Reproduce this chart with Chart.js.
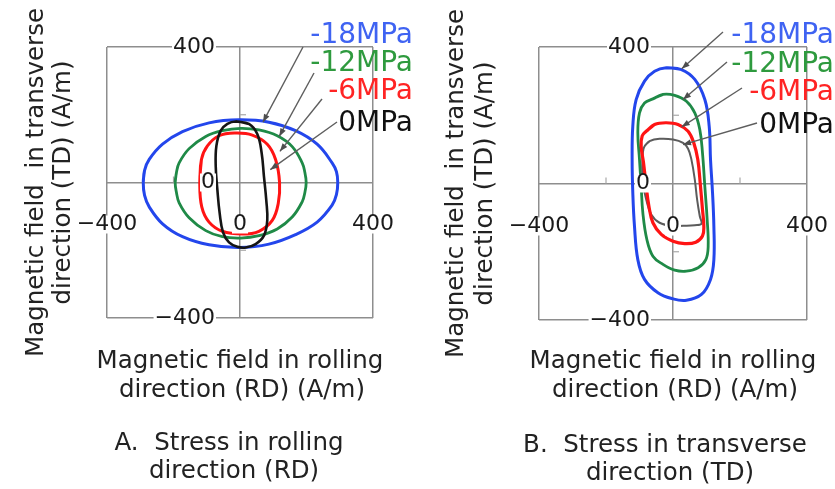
<!DOCTYPE html>
<html>
<head>
<meta charset="utf-8">
<script src="https://cdn.jsdelivr.net/npm/chart.js@4.4.0/dist/chart.umd.min.js"></script>
<style>
  html, body { margin: 0; padding: 0; background: #fff; }
  #wrap { position: relative; width: 835px; height: 489px; }
  #wrap canvas { position: absolute; top: 0; }
</style>
</head>
<body>
<div id="wrap">
  <canvas id="chartA" width="420" height="489" style="left:0;width:420px;height:489px"></canvas>
  <canvas id="chartB" width="415" height="489" style="left:420px;width:415px;height:489px"></canvas>
</div>
<script>
// ---- data (A/m) ----
const tickValues = [-400, 0, 400];
const gridValues = [-400, 0, 400];
const minorTicks = [-200, 200];
const stressLabels = ['-18MPa', '-12MPa', '-6MPa', '0MPa'];

// A. stress in rolling direction
const rd18 = [[-291,0],[-287,36],[-273,68],[-233,113],[-173,150],[-93,176],[-3,185],[87,178],[167,153],[232,113],[277,58],[290,32],
              [294,0],[290,-36],[277,-67],[232,-117],[167,-154],[87,-182],[-3,-192],[-93,-184],[-173,-160],[-233,-122],[-273,-72],[-287,-38]];
const rd12 = [[-195,0],[-191,30],[-183,58],[-153,100],[-103,136],[-53,153],[2,160],[57,155],[112,138],[157,106],[187,58],[195,30],
              [199,0],[195,-30],[187,-57],[157,-102],[112,-137],[57,-157],[2,-164],[-53,-160],[-103,-142],[-153,-104],[-183,-60],[-191,-30]];
const rd6  = [[-121,0],[-116,68],[-98,108],[-63,138],[-13,146],[37,140],[82,113],[107,68],[119,0],[115,-62],
              [97,-112],[57,-144],[7,-152],[-53,-144],[-93,-117],[-115,-72]];
const rd0  = [[-13,180],[27,173],[52,143],[65,88],[72,18],[79,-52],[82,-112],[72,-157],[47,-182],[17,-192],
              [-8,-190],[-33,-177],[-51,-147],[-61,-92],[-68,-22],[-73,48],[-71,108],[-58,153],[-38,173]];
const rdArrowTips = [[69,178],[118,136],[120,92],[91,38]];

// B. stress in transverse direction
const td18 = [[-20,339],[25,334],[65,305],[95,246],[108,168],[112,70],[118,-27],[122,-125],[122,-223],[112,-281],
              [85,-325],[40,-342],[0,-338],[-45,-320],[-85,-281],[-105,-223],[-115,-125],[-120,-27],[-122,70],[-120,168],
              [-110,246],[-85,300],[-55,329]];
const td12 = [[-60,248],[-30,261],[5,258],[40,241],[65,207],[80,158],[88,90],[95,-8],[102,-106],[105,-184],
              [98,-223],[75,-247],[40,-257],[5,-254],[-30,-237],[-60,-213],[-78,-164],[-90,-86],[-95,-8],[-100,70],
              [-105,149],[-100,207],[-85,236]];
const td6  = [[-80,153],[-55,173],[-20,178],[15,173],[45,153],[62,119],[74,70],[82,-8],[88,-76],[92,-125],
              [88,-154],[68,-172],[35,-176],[0,-169],[-35,-149],[-60,-115],[-72,-66],[-80,-8],[-88,61],[-95,109],[-92,139]];
const td0  = [[-85,109],[-70,124],[-40,131],[0,129],[30,119],[45,102],[55,70],[65,12],[72,-47],[80,-96],
              [85,-118],[65,-122],[30,-124],[0,-125],[-40,-115],[-65,-91],[-80,-47],[-90,2],[-92,51],[-90,90]];
const tdArrowTips = [[26,336],[30,246],[26,166],[30,114]];

// ---- styling ----
const FONT = '"DejaVu Sans", Verdana, sans-serif';
const GRID = '#8e8e8e';
const BLUE = '#2346ec', GREEN = '#1f8a47', RED = '#ff1414', BLACK = '#151515', GRAY = '#5c5c5c';
const labelColors = ['#3f63f2', '#2e9a3e', '#ff2424', '#111111'];

function loop(label, pts, color, width) {
  // close the curve: repeat the first two points so the spline runs smoothly through the join
  const closed = pts.concat([pts[0], pts[1]]);
  return {
    label: label,
    data: closed.map(p => ({ x: p[0], y: p[1] })),
    showLine: true,
    borderColor: color,
    borderWidth: width,
    pointRadius: 0,
    tension: 0.4,
    fill: false
  };
}

function axis() {
  return {
    type: 'linear', min: -400, max: 400,
    ticks: { display: false, stepSize: 200 },
    grid: {
      drawTicks: false,
      lineWidth: 1.5,
      color: c => (c.tick && gridValues.includes(c.tick.value)) ? GRID : 'rgba(0,0,0,0)'
    },
    border: { display: false }
  };
}

function fmt(v) {
  return v < 0 ? '\u2212' + Math.abs(v) : String(v);
}

function boxedText(ctx, text, x, y, align) {
  const w = ctx.measureText(text).width;
  const left = align === 'right' ? x - w : x - w / 2;
  ctx.fillStyle = '#fff';
  ctx.fillRect(left - 1, y - 9, w + 2, 18);
  ctx.fillStyle = '#1a1a1a';
  ctx.textAlign = align;
  ctx.fillText(text, x, y);
}

function panelPlugin(lay) {
  return {
    id: 'panelText',
    beforeDatasetsDraw(chart) {
      const ctx = chart.ctx, xs = chart.scales.x, ys = chart.scales.y;
      const cx = xs.getPixelForValue(0), cy = ys.getPixelForValue(0);
      ctx.save();
      ctx.strokeStyle = '#a8a8a8';
      ctx.lineWidth = 1.2;
      minorTicks.forEach(v => {
        const py = ys.getPixelForValue(v), px = xs.getPixelForValue(v);
        ctx.beginPath(); ctx.moveTo(cx, py); ctx.lineTo(cx + 6, py); ctx.stroke();
        ctx.beginPath(); ctx.moveTo(px, cy); ctx.lineTo(px, cy - 6); ctx.stroke();
      });
      ctx.restore();
    },
    afterDatasetsDraw(chart) {
      const ctx = chart.ctx, xs = chart.scales.x, ys = chart.scales.y;
      const area = chart.chartArea;
      const cx = xs.getPixelForValue(0), cy = ys.getPixelForValue(0);
      const mid = (area.left + area.right) / 2;
      ctx.save();

      // tick labels
      ctx.font = '22px ' + FONT;
      ctx.textBaseline = 'middle';
      tickValues.forEach(v => {
        boxedText(ctx, fmt(v), xs.getPixelForValue(v), cy + lay.xTickDy, 'center');
        boxedText(ctx, fmt(v), cx - lay.yTickDx, ys.getPixelForValue(v), 'right');
      });

      // axis titles and caption
      ctx.font = '24.5px ' + FONT;
      ctx.fillStyle = '#222';
      ctx.textBaseline = 'alphabetic';
      ctx.textAlign = 'center';
      ctx.fillText('Magnetic field in rolling', mid, lay.xTitleY[0]);
      ctx.fillText('direction (RD) (A/m)', mid + 2, lay.xTitleY[1]);
      ctx.fillText(lay.caption[0], mid + lay.captionDx, lay.captionY[0]);
      ctx.fillText(lay.caption[1], mid + lay.captionDx + 5, lay.captionY[1]);

      ctx.save();
      ctx.translate(lay.yTitleX[0], cy);
      ctx.rotate(-Math.PI / 2);
      ctx.fillText('Magnetic field  in transverse', 0, 0);
      ctx.restore();
      ctx.save();
      ctx.translate(lay.yTitleX[1], cy);
      ctx.rotate(-Math.PI / 2);
      ctx.fillText('direction (TD) (A/m)', 0, 0);
      ctx.restore();

      // stress labels with arrows to their curves
      ctx.font = '28px ' + FONT;
      ctx.textAlign = 'right';
      stressLabels.forEach((t, i) => {
        ctx.fillStyle = labelColors[i];
        ctx.fillText(t, lay.labelRight, lay.labelBase[i]);
      });
      ctx.strokeStyle = '#5e5e5e';
      ctx.fillStyle = '#4e4e4e';
      ctx.lineWidth = 1.4;
      lay.tips.forEach((tip, i) => {
        const tx = xs.getPixelForValue(tip[0]), ty = ys.getPixelForValue(tip[1]);
        const [sx, sy] = lay.tails[i];
        const a = Math.atan2(ty - sy, tx - sx);
        ctx.beginPath(); ctx.moveTo(sx, sy); ctx.lineTo(tx, ty); ctx.stroke();
        ctx.beginPath();
        ctx.moveTo(tx, ty);
        ctx.lineTo(tx - 8 * Math.cos(a) + 3 * Math.sin(a), ty - 8 * Math.sin(a) - 3 * Math.cos(a));
        ctx.lineTo(tx - 8 * Math.cos(a) - 3 * Math.sin(a), ty - 8 * Math.sin(a) + 3 * Math.cos(a));
        ctx.closePath(); ctx.fill();
      });
      ctx.restore();
    }
  };
}

function makePanel(id, datasets, padding, lay) {
  return new Chart(document.getElementById(id), {
    type: 'scatter',
    data: { datasets: datasets },
    options: {
      responsive: false,
      animation: false,
      layout: { padding: padding },
      plugins: { legend: { display: false }, tooltip: { enabled: false } },
      scales: { x: axis(), y: axis() }
    },
    plugins: [panelPlugin(lay)]
  });
}

makePanel('chartA', [
  loop('0MPa', rd0, BLACK, 2.6),
  loop('-6MPa', rd6, RED, 3),
  loop('-12MPa', rd12, GREEN, 2.8),
  loop('-18MPa', rd18, BLUE, 3)
], { left: 107, right: 47, top: 47, bottom: 171 }, {
  xTickDy: 42, yTickDx: 25,
  xTitleY: [368, 397], captionY: [450, 478], captionDx: -11,
  caption: ['A.  Stress in rolling', 'direction (RD)'],
  yTitleX: [43, 70],
  labelRight: 413, labelBase: [43, 71, 99, 131],
  tips: rdArrowTips,
  tails: [[303, 47], [314, 73], [322, 99], [337, 122]]
});

makePanel('chartB', [
  loop('-6MPa', td6, RED, 3.2),
  loop('0MPa', td0, GRAY, 2),
  loop('-12MPa', td12, GREEN, 2.8),
  loop('-18MPa', td18, BLUE, 3)
], { left: 119, right: 28, top: 47, bottom: 169 }, {
  xTickDy: 43, yTickDx: 23,
  xTitleY: [368, 397], captionY: [452, 480], captionDx: -8,
  caption: ['B.  Stress in transverse', 'direction (TD)'],
  yTitleX: [43, 72],
  labelRight: 414, labelBase: [43, 72, 100, 133],
  tips: tdArrowTips,
  tails: [[303, 32], [307, 62], [322, 88], [337, 123]]
});
</script>
</body>
</html>
